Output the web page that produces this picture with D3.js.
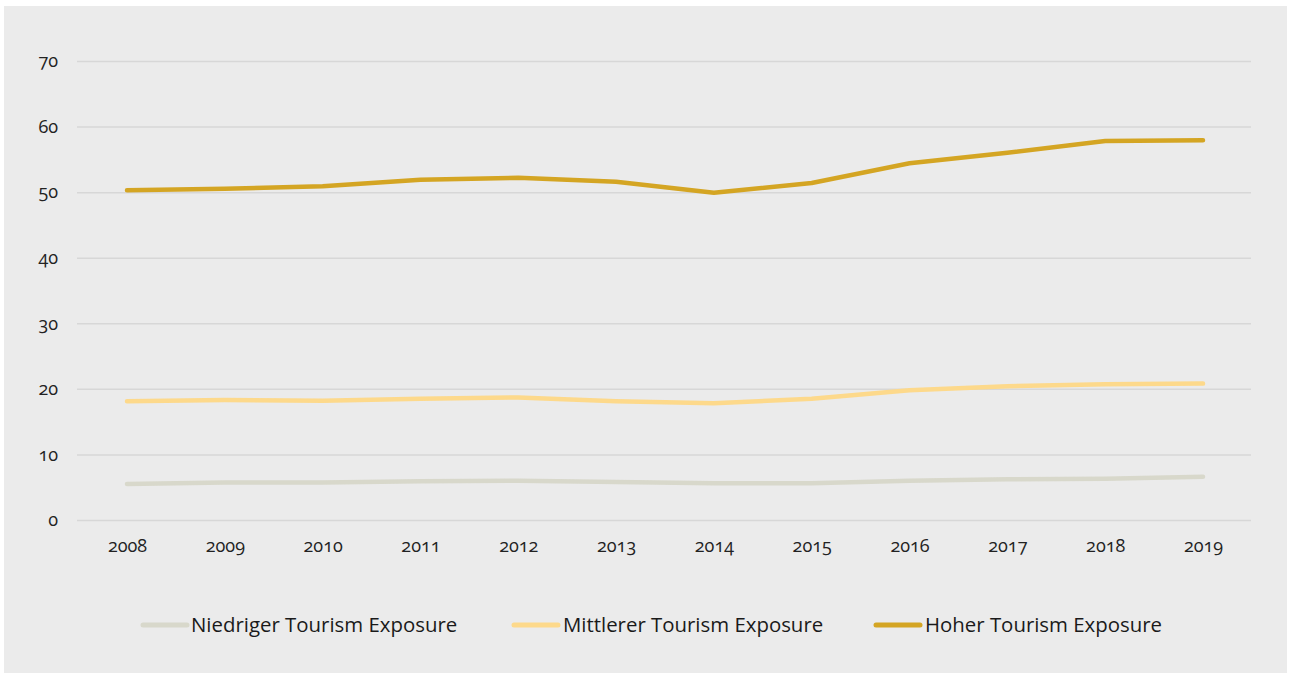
<!DOCTYPE html>
<html>
<head>
<meta charset="utf-8">
<script src="https://cdn.jsdelivr.net/npm/d3@7"></script>
<style>
  html, body { margin: 0; padding: 0; background: #ffffff; }
  svg { display: block; }
  .tick-label { font-family: "Open Sans", sans-serif; font-size: 18px; fill: #222; font-feature-settings: "onum" 1; font-variant-numeric: oldstyle-nums; }
  .legend-label { font-family: "Open Sans", sans-serif; font-size: 20.4px; fill: #1a1a1a; }
</style>
</head>
<body>
<svg id="chart" width="1290" height="675"></svg>
<script>
// Years on the x axis
const years = [2008, 2009, 2010, 2011, 2012, 2013, 2014, 2015, 2016, 2017, 2018, 2019];

// Series values per year
const niedriger = [5.5, 5.7, 5.7, 5.9, 6.0, 5.8, 5.6, 5.6, 6.0, 6.2, 6.3, 6.6];
const mittlerer = [18.1, 18.3, 18.2, 18.5, 18.7, 18.1, 17.8, 18.5, 19.8, 20.4, 20.7, 20.8];
const hoher = [50.3, 50.5, 50.9, 51.9, 52.2, 51.6, 49.9, 51.4, 54.4, 56.0, 57.8, 57.9];

// Series names (legend order)
const seriesNames = ["Niedriger Tourism Exposure", "Mittlerer Tourism Exposure", "Hoher Tourism Exposure"];

// Y-axis ticks
const yTicks = [0, 10, 20, 30, 40, 50, 60, 70];

const series = [
  { name: seriesNames[0], values: niedriger, color: "#d8d8cb" },
  { name: seriesNames[1], values: mittlerer, color: "#fdd98b" },
  { name: seriesNames[2], values: hoher, color: "#d4a523" }
];

const svg = d3.select("#chart");
const W = 1290, H = 675;

// Panel background
svg.append("rect")
  .attr("x", 4).attr("y", 6)
  .attr("width", W - 7).attr("height", H - 8)
  .attr("fill", "#ebebeb");

const plotLeft = 77, plotRight = 1251;
const y = d3.scaleLinear().domain([0, 70]).range([520, 61]);
const x = d3.scalePoint().domain(years).range([127, 1203]);

// Horizontal gridlines
const gridAxis = d3.axisLeft(y)
  .tickValues(yTicks)
  .tickSize(-(plotRight - plotLeft))
  .tickFormat("");
const grid = svg.append("g")
  .attr("transform", `translate(${plotLeft},0)`)
  .call(gridAxis);
grid.select(".domain").remove();
grid.selectAll(".tick line").attr("stroke", "#d7d7d7").attr("stroke-width", 1.5);

// Y axis labels
const yAxis = d3.axisLeft(y).tickValues(yTicks).tickSize(0).tickPadding(0);
const yg = svg.append("g").attr("transform", "translate(58,0)").call(yAxis);
yg.select(".domain").remove();
yg.selectAll(".tick text")
  .attr("class", "tick-label")
  .attr("text-anchor", "end")
  .attr("dy", "0.32em");

// X axis labels
const xAxis = d3.axisBottom(x).tickSize(0).tickPadding(0).tickFormat(d3.format("d"));
const xg = svg.append("g").attr("transform", "translate(0,539)").call(xAxis);
xg.select(".domain").remove();
xg.selectAll(".tick text").attr("class", "tick-label").attr("dy", "0.71em");

// Series lines
const line = d3.line()
  .x((d, i) => x(years[i]))
  .y(d => y(d));

svg.append("g").selectAll("path")
  .data(series)
  .join("path")
  .attr("d", d => line(d.values))
  .attr("fill", "none")
  .attr("stroke", d => d.color)
  .attr("stroke-width", 4.5)
  .attr("stroke-linecap", "round")
  .attr("stroke-linejoin", "round");

// Legend
const legendItems = [
  { x1: 143, x2: 187, tx: 191 },
  { x1: 514, x2: 558, tx: 563 },
  { x1: 876, x2: 920, tx: 925 }
];
const lg = svg.append("g");
series.forEach((s, i) => {
  const p = legendItems[i];
  lg.append("line")
    .attr("x1", p.x1).attr("x2", p.x2)
    .attr("y1", 625).attr("y2", 625)
    .attr("stroke", s.color)
    .attr("stroke-width", 5)
    .attr("stroke-linecap", "round");
  lg.append("text")
    .attr("class", "legend-label")
    .attr("x", p.tx).attr("y", 625)
    .attr("dy", "0.35em")
    .text(s.name);
});
</script>
</body>
</html>
